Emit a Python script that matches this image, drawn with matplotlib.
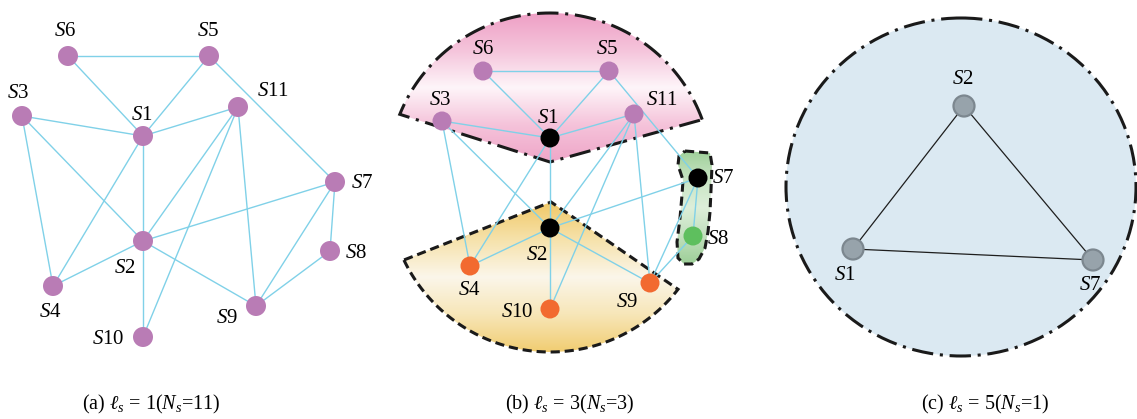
import numpy as np
import matplotlib
matplotlib.use("Agg")
from matplotlib import pyplot as plt
from matplotlib.patches import Circle, Polygon, Ellipse
from matplotlib.colors import LinearSegmentedColormap

plt.rcParams['font.family'] = ['Liberation Serif', 'DejaVu Serif']
plt.rcParams['mathtext.fontset'] = 'custom'
plt.rcParams['mathtext.rm'] = 'Liberation Serif'
plt.rcParams['mathtext.it'] = 'Liberation Serif:italic'

# node names and links (same topology in panels a and b)
nodes = ['S1', 'S2', 'S3', 'S4', 'S5', 'S6', 'S7', 'S8', 'S9', 'S10', 'S11']
edges = [('S6', 'S5'), ('S6', 'S1'), ('S5', 'S1'), ('S5', 'S7'), ('S3', 'S1'),
         ('S3', 'S2'), ('S3', 'S4'), ('S1', 'S11'), ('S1', 'S2'), ('S1', 'S4'),
         ('S11', 'S2'), ('S11', 'S10'), ('S11', 'S9'), ('S7', 'S2'), ('S7', 'S8'),
         ('S7', 'S9'), ('S8', 'S9'), ('S2', 'S4'), ('S2', 'S9'), ('S2', 'S10')]

# panel (a) layout, pixel coords
pos_a_x = [143, 143, 22, 53, 209, 68, 335, 330, 256, 143, 238]
pos_a_y = [136, 241, 116, 286, 56, 56, 182, 251, 306, 337, 107]
lab_a_x = [142, 125, 18, 50, 208, 65, 362, 356, 227, 108, 273]
lab_a_y = [115, 268, 93, 312, 32, 32, 183, 253, 318, 339, 91]

# panel (b) layout
pos_b_x = [550, 550, 442, 470, 609, 483, 698, 693, 650, 550, 634]
pos_b_y = [138, 228, 121, 266, 71, 71, 178, 236, 283, 309, 114]
lab_b_x = [548, 537, 440, 469, 607, 483, 723, 718, 627, 517, 662]
lab_b_y = [118, 255, 100, 290, 49, 50, 178, 239, 302, 312, 100]
role_b = ['head', 'head', 'm1', 'm2', 'm1', 'm1', 'head', 'm3', 'm2', 'm2', 'm1']

# panel (c) layout
nodes_c = ['S1', 'S2', 'S7']
edges_c = [('S1', 'S2'), ('S2', 'S7'), ('S7', 'S1')]
pos_c_x = [853, 964, 1093]
pos_c_y = [249, 106, 260]
lab_c_x = [845, 963, 1090]
lab_c_y = [275, 80, 285]

captions = [r'(a) $\ell_s$ = 1($N_s$=11)', r'(b) $\ell_s$ = 3($N_s$=3)', r'(c) $\ell_s$ = 5($N_s$=1)']
caption_x = [151, 570, 985]

LINK = '#80d1e8'
PURPLE = '#b97cb5'
ROLE_COLORS = {'head': '#000000', 'm1': PURPLE, 'm2': '#f26a30', 'm3': '#5ebf5e'}


def label(ax, name, x, y):
    ax.text(x, y, r'$S$' + name[1:], fontsize=15, ha='center', va='center', zorder=6)


def gradient_fill(ax, patch, colors, zorder):
    ax.add_patch(patch)
    verts = patch.get_path().transformed(patch.get_patch_transform()).vertices
    x0, x1 = verts[:, 0].min(), verts[:, 0].max()
    y0, y1 = verts[:, 1].min(), verts[:, 1].max()
    cmap = LinearSegmentedColormap.from_list('grad', colors)
    img = np.linspace(0, 1, 256).reshape(-1, 1)
    im = ax.imshow(img, cmap=cmap, extent=(x0, x1, y1, y0), origin='upper',
                   aspect='auto', zorder=zorder, interpolation='bilinear')
    im.set_clip_path(patch)


def sector(cx, cy, r, a0, a1, apex):
    t = np.radians(np.linspace(a0, a1, 80))
    pts = np.column_stack([cx + r * np.cos(t), cy - r * np.sin(t)])
    return np.vstack([pts, [apex]])


def draw_graph(ax, xs, ys, names, links, colors, radius, link_color, lw):
    p = {n: (x, y) for n, x, y in zip(names, xs, ys)}
    for a, b in links:
        ax.plot([p[a][0], p[b][0]], [p[a][1], p[b][1]], color=link_color, lw=lw, zorder=3)
    for n, c in zip(names, colors):
        ax.add_patch(Circle(p[n], radius, facecolor=c, edgecolor='none', zorder=4))


fig = plt.figure(figsize=(11.37, 4.19), dpi=100)
ax = fig.add_axes([0, 0, 1, 1])

# (a)
draw_graph(ax, pos_a_x, pos_a_y, nodes, edges, [PURPLE] * len(nodes), 10, LINK, 1.0)
for n, x, y in zip(nodes, lab_a_x, lab_a_y):
    label(ax, n, x, y)

# (b) cluster regions
pink = Polygon(sector(550, 175, 162, 20, 158, (550, 162)), closed=True,
               facecolor='none', edgecolor='#1a1a1a', lw=2.2,
               linestyle=(0, (7, 2.2, 1, 2.2)), zorder=2.5)
gradient_fill(ax, Polygon(pink.get_xy(), closed=True, facecolor='none', edgecolor='none'),
              ['#ee9fc5', '#f5c4db', '#fef5f9', '#f5c3da', '#efa6c8'], 1)
ax.add_patch(pink)

yellow = Polygon(sector(550, 190, 162, 205.6, 322.2, (551, 202)), closed=True,
                 facecolor='none', edgecolor='#1a1a1a', lw=2.2,
                 linestyle=(0, (3, 1.6)), zorder=2.5)
gradient_fill(ax, Polygon(yellow.get_xy(), closed=True, facecolor='none', edgecolor='none'),
              ['#f0c867', '#f6e2ab', '#fbf6ea', '#f7e6b8', '#f1cd72'], 1)
ax.add_patch(yellow)

blob_pts = [(685, 151), (710, 153), (712, 165), (711, 190), (710, 212), (708, 232),
            (705, 248), (699, 259), (692, 264), (684, 264), (678, 258), (677, 242),
            (680, 218), (682, 195), (683, 180), (678, 165), (679, 156)]
green = Polygon(blob_pts, closed=True, facecolor='none', edgecolor='#1a1a1a', lw=2.2,
                linestyle=(0, (3, 1.6)), zorder=2.5)
gradient_fill(ax, Polygon(blob_pts, closed=True, facecolor='none', edgecolor='none'),
              ['#9fd09a', '#c8e4c3', '#ddefda', '#c2e0bd', '#9dcf98'], 1)
ax.add_patch(green)

draw_graph(ax, pos_b_x, pos_b_y, nodes, edges, [ROLE_COLORS[r] for r in role_b], 9.5, LINK, 1.0)
for n, x, y in zip(nodes, lab_b_x, lab_b_y):
    label(ax, n, x, y)

# (c)
ax.add_patch(Ellipse((961, 187), 350, 338, facecolor='#dbe9f2', edgecolor='#1a1a1a',
                     lw=2.2, linestyle=(0, (7, 2.2, 1, 2.2)), zorder=1))
p = {n: (x, y) for n, x, y in zip(nodes_c, pos_c_x, pos_c_y)}
for a, b in edges_c:
    ax.plot([p[a][0], p[b][0]], [p[a][1], p[b][1]], color='#1e1e1e', lw=0.9, zorder=3)
for n in nodes_c:
    ax.add_patch(Circle(p[n], 10.5, facecolor='#97a3ab', edgecolor='#7c878f', lw=1.6, zorder=4))
for n, x, y in zip(nodes_c, lab_c_x, lab_c_y):
    label(ax, n, x, y)

for cap, x in zip(captions, caption_x):
    ax.text(x, 404, cap, fontsize=14.5, ha='center', va='center')

ax.set_xlim(0, 1137)
ax.set_ylim(419, 0)
ax.axis('off')
fig.savefig('out.png', dpi=100)
